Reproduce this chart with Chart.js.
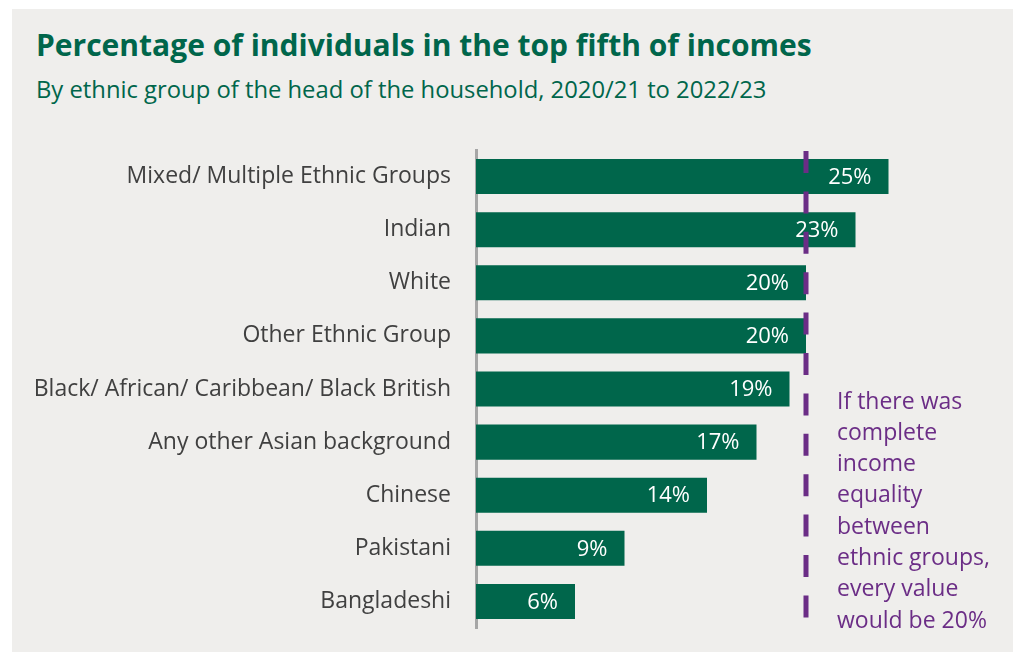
<!DOCTYPE html>
<html>
<head>
<meta charset="utf-8">
<script src="https://cdn.jsdelivr.net/npm/chart.js@4"></script>
<style>
  html, body { margin: 0; padding: 0; background: #ffffff; }
  #wrap { position: relative; width: 1015px; height: 652px; overflow: hidden; }
  #panel { position: absolute; left: 12px; top: 9px; width: 1001px; height: 643px; background: #efeeec; }
  h1 {
    position: absolute; left: 36px; top: 24px; margin: 0; line-height: 1;
    font: bold 30px "Open Sans", sans-serif; color: #00664b; white-space: nowrap;
  }
  h2 {
    position: absolute; left: 36px; top: 73px; margin: 0; line-height: 1;
    font: normal 23.8px "Open Sans", sans-serif; color: #00664b; white-space: nowrap;
  }
  #chart { position: absolute; left: 0; top: 0; }
</style>
</head>
<body>
<div id="wrap">
  <div id="panel"></div>
  <h1>Percentage of individuals in the top fifth of incomes</h1>
  <h2>By ethnic group of the head of the household, 2020/21 to 2022/23</h2>
  <canvas id="chart" width="1015" height="652"></canvas>
</div>
<script>
const groups = [
  'Mixed/ Multiple Ethnic Groups',
  'Indian',
  'White',
  'Other Ethnic Group',
  'Black/ African/ Caribbean/ Black British',
  'Any other Asian background',
  'Chinese',
  'Pakistani',
  'Bangladeshi'
];
const topFifthPct = [25, 23, 20, 20, 19, 17, 14, 9, 6];
const equalityLine = 20;
const noteLines = [
  'If there was',
  'complete',
  'income',
  'equality',
  'between',
  'ethnic groups,',
  'every value',
  'would be 20%'
];

const green = '#00664b';
const purple = '#6b2d86';

// white % labels inside the end of each bar
const barLabels = {
  id: 'barLabels',
  afterDatasetsDraw(chart) {
    const ctx = chart.ctx;
    const meta = chart.getDatasetMeta(0);
    ctx.save();
    ctx.font = '22px "Open Sans", sans-serif';
    ctx.fillStyle = '#ffffff';
    ctx.textAlign = 'right';
    ctx.textBaseline = 'middle';
    meta.data.forEach((bar, i) => {
      ctx.fillText(topFifthPct[i] + '%', bar.x - 17, bar.y + 1);
    });
    ctx.restore();
  }
};

// dashed reference line at 20% plus the note beside it
const equality = {
  id: 'equality',
  afterDraw(chart) {
    const ctx = chart.ctx;
    const area = chart.chartArea;
    const x = chart.scales.x.getPixelForValue(equalityLine);
    ctx.save();
    ctx.strokeStyle = purple;
    ctx.lineWidth = 5;
    ctx.setLineDash([22, 18.4]);
    ctx.beginPath();
    ctx.moveTo(x, area.top + 1);
    ctx.lineTo(x, area.bottom - 10);
    ctx.stroke();
    ctx.setLineDash([]);

    ctx.font = '23px "Open Sans", sans-serif';
    ctx.fillStyle = purple;
    ctx.textAlign = 'left';
    ctx.textBaseline = 'middle';
    noteLines.forEach((line, i) => {
      ctx.fillText(line, x + 31, 402 + i * 31.3);
    });
    ctx.restore();
  }
};

new Chart(document.getElementById('chart'), {
  type: 'bar',
  data: {
    labels: groups,
    datasets: [{
      data: topFifthPct,
      backgroundColor: green,
      barPercentage: 0.66,
      categoryPercentage: 1
    }]
  },
  options: {
    indexAxis: 'y',
    responsive: false,
    animation: false,
    layout: {
      padding: { top: 150, bottom: 24, left: 0, right: 44 }
    },
    plugins: {
      legend: { display: false },
      tooltip: { enabled: false }
    },
    scales: {
      x: {
        display: false,
        min: 0,
        max: 30
      },
      y: {
        afterFit(scale) {
          scale.width = 476;
          // labels sit mid-category, so no extra end padding is needed
          scale.paddingTop = 0;
          scale.paddingBottom = 0;
        },
        grid: { display: false, drawTicks: false },
        border: { display: true, color: '#a6a6a6', width: 3 },
        ticks: {
          padding: 25,
          color: '#404040',
          font: { family: '"Open Sans", sans-serif', size: 23 }
        }
      }
    }
  },
  plugins: [barLabels, equality]
});
</script>
</body>
</html>
